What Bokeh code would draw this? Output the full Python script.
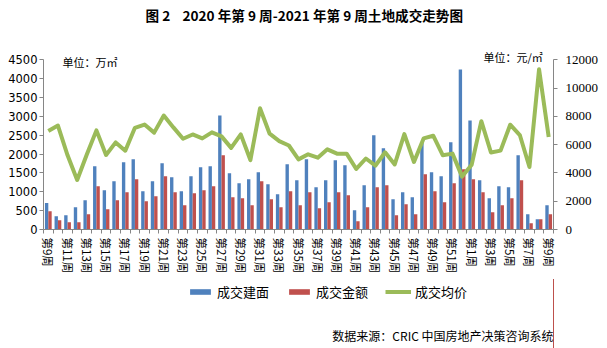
from bokeh.plotting import figure
from bokeh.layouts import column
from bokeh.models import (ColumnDataSource, Range1d, LinearAxis, FixedTicker,
                          Legend, LegendItem, Label)
from bokeh.transform import dodge
from bokeh.embed import file_html
from bokeh.resources import INLINE

weeks = ["第%d周" % w for w in range(9, 53)] + ["第%d周" % w for w in range(1, 10)]

# 成交建面 (万㎡)
area = [705, 352, 379, 590, 776, 1676, 1040, 1278, 1782, 1861,
        1014, 1278, 1755, 1384, 1014, 1411, 1649, 1676, 3025, 1490,
        1226, 1331, 1517, 1199, 935, 1728, 1305, 1861, 1120, 1305,
        1835, 1702, 511, 1173, 2496, 2152, 802, 988, 855, 2300,
        1517, 1411, 2311, 4243, 2893, 1305, 829, 1146, 1120, 1967,
        405, 273, 644]
# 成交金额
amount = [485, 246, 193, 193, 405, 1146, 537, 776, 988, 1331,
          750, 882, 1411, 988, 644, 961, 1040, 1146, 1967, 855,
          829, 644, 1278, 802, 590, 1014, 644, 988, 564, 723,
          988, 908, 220, 590, 1120, 1173, 379, 670, 405, 1464,
          1014, 723, 1226, 1597, 1331, 988, 458, 644, 829, 1305,
          167, 273, 405]
# 成交均价 (元/㎡)
price = [6960, 7350, 5245, 3500, 5300, 7010, 5270, 6160, 5570, 7190,
         7420, 6850, 8060, 7220, 6420, 6720, 6440, 6870, 6585, 5770,
         6727, 4910, 8570, 6775, 6245, 5940, 4960, 5315, 5080, 5670,
         5365, 5365, 4280, 5020, 4515, 5460, 4600, 6750, 4775, 6440,
         6630, 5245, 5365, 3740, 4585, 7660, 5445, 5575, 7410, 6680,
         4420, 11330, 6540]

series_names = ["成交建面", "成交金额", "成交均价"]
colors = ["#4F81BD", "#C0504D", "#9BBB59"]

left_max, right_max = 4500, 12000
left_step, right_step = 500, 2000

n = len(weeks)
x = list(range(n))
src = ColumnDataSource(dict(x=x, area=area, amount=amount, price=price))

CJK = "Noto Sans CJK SC"
axis_color = "#868686"
NB = "\u00a0"

# ---- main chart -------------------------------------------------------
W, H1 = 607, 279
frame_left = 43
frame_h = 229          # frame runs from canvas top to the x axis
axis_top_px = 59.3     # pixel row of the top tick (4500 / 12000)
scale = (frame_h - axis_top_px) / frame_h

p = figure(width=W, height=H1, output_backend="svg", toolbar_location=None,
           x_range=Range1d(-0.5, n - 0.5),
           y_range=Range1d(0, left_max / scale),
           min_border_left=frame_left, min_border_right=54, min_border_top=0,
           min_border_bottom=H1 - frame_h)
p.extra_y_ranges = {"price": Range1d(0, right_max / scale)}
p.outline_line_color = None
p.xgrid.visible = False
p.ygrid.visible = False

bw = 0.35
r1 = p.vbar(x=dodge("x", -bw / 2, range=p.x_range), top="area", width=bw,
            source=src, fill_color=colors[0], line_color=None)
r2 = p.vbar(x=dodge("x", bw / 2, range=p.x_range), top="amount", width=bw,
            source=src, fill_color=colors[1], line_color=None)
r3 = p.line(x="x", y="price", source=src, line_color=colors[2], line_width=4,
            line_join="round", y_range_name="price")

xa = p.xaxis[0]
xa.ticker = FixedTicker(ticks=list(range(0, n, 2)),
                        minor_ticks=[i - 0.5 for i in range(n + 1)])
xa.major_label_overrides = {i: weeks[i] for i in range(0, n, 2)}
xa.major_label_orientation = "vertical"
xa.major_label_text_font = CJK
xa.major_label_text_font_size = "11.5px"
xa.major_label_text_color = "black"
xa.major_tick_out = 0
xa.major_tick_in = 0
xa.minor_tick_out = 4
xa.minor_tick_in = 0
xa.minor_tick_line_color = axis_color
xa.axis_line_color = axis_color
xa.major_label_standoff = 4

ya = p.yaxis[0]
ya.ticker = FixedTicker(ticks=list(range(0, left_max + 1, left_step)))
ya.bounds = (0, left_max)
ya.major_label_text_font = "DejaVu Sans"
ya.major_label_text_font_size = "11.5px"
ya.major_label_text_color = "black"
ya.major_tick_out = 4
ya.major_tick_in = 0
ya.minor_tick_line_color = None
ya.axis_line_color = axis_color
ya.major_tick_line_color = axis_color
ya.major_label_standoff = 2

ra = LinearAxis(y_range_name="price",
                ticker=FixedTicker(ticks=list(range(0, right_max + 1, right_step))))
ra.bounds = (0, right_max)
ra.major_label_text_font = "Liberation Serif"
ra.major_label_text_font_size = "13px"
ra.major_label_text_color = "black"
ra.major_tick_out = 4
ra.major_tick_in = 0
ra.minor_tick_line_color = None
ra.axis_line_color = axis_color
ra.major_tick_line_color = axis_color
ra.major_label_standoff = 8
p.add_layout(ra, "right")

# texts inside the frame (screen units: from frame left / frame bottom)
title_text = "图 2" + NB * 4 + "2020 年第 9 周-2021 年第 9 周土地成交走势图"
title = Label(x=145 - frame_left, y=frame_h - 14, x_units="screen", y_units="screen",
              text=title_text,
              text_align="left", text_baseline="middle",
              text_font=CJK, text_font_size="13.6px", text_font_style="bold",
              text_color="black")
unit_l = Label(x=62 - frame_left, y=frame_h - 61, x_units="screen", y_units="screen",
               text="单位：万㎡", text_align="left", text_baseline="middle",
               text_font=CJK, text_font_size="11px", text_color="black")
unit_r = Label(x=483 - frame_left, y=frame_h - 56, x_units="screen", y_units="screen",
               text="单位：元/㎡", text_align="left", text_baseline="middle",
               text_font=CJK, text_font_size="11px", text_color="black")
for lab in (title, unit_l, unit_r):
    p.add_layout(lab)

# ---- legend + source strip (frame is aligned with the chart's frame) ----
H2 = 348 - H1
q = figure(width=W, height=H2, output_backend="svg", toolbar_location=None,
           x_range=Range1d(-3 * n, -2 * n), y_range=Range1d(0, 1),
           x_axis_type=None, y_axis_type=None,
           min_border_left=frame_left, min_border_right=54, min_border_top=0,
           min_border_bottom=0)
q.outline_line_color = None
q.xgrid.visible = False
q.ygrid.visible = False
# legend proxies share the chart data but lie outside this strip's x range
l1 = q.vbar(x="x", top="area", width=bw, source=src, fill_color=colors[0], line_color=None)
l2 = q.vbar(x="x", top="amount", width=bw, source=src, fill_color=colors[1], line_color=None)
l3 = q.line(x="x", y="price", source=src, line_color=colors[2], line_width=4)

legend = Legend(items=[LegendItem(label=series_names[0], renderers=[l1]),
                       LegendItem(label=series_names[1], renderers=[l2]),
                       LegendItem(label=series_names[2], renderers=[l3])],
                orientation="horizontal", location=(187 - frame_left, H2 - 22),
                glyph_width=26, glyph_height=7, label_standoff=4, spacing=17,
                padding=0, margin=0, border_line_color=None,
                background_fill_alpha=0,
                label_text_font=CJK, label_text_font_size="13px",
                label_text_color="black")
q.add_layout(legend, "center")

source = Label(x=553 - frame_left, y=348 - 335, x_units="screen", y_units="screen",
               text="数据来源：CRIC 中国房地产决策咨询系统", text_align="right",
               text_baseline="middle", text_font=CJK, text_font_size="12px",
               text_color="black")
q.add_layout(source)

layout = column(p, q, spacing=0)
open("out.html", "w").write(file_html(layout, INLINE))
